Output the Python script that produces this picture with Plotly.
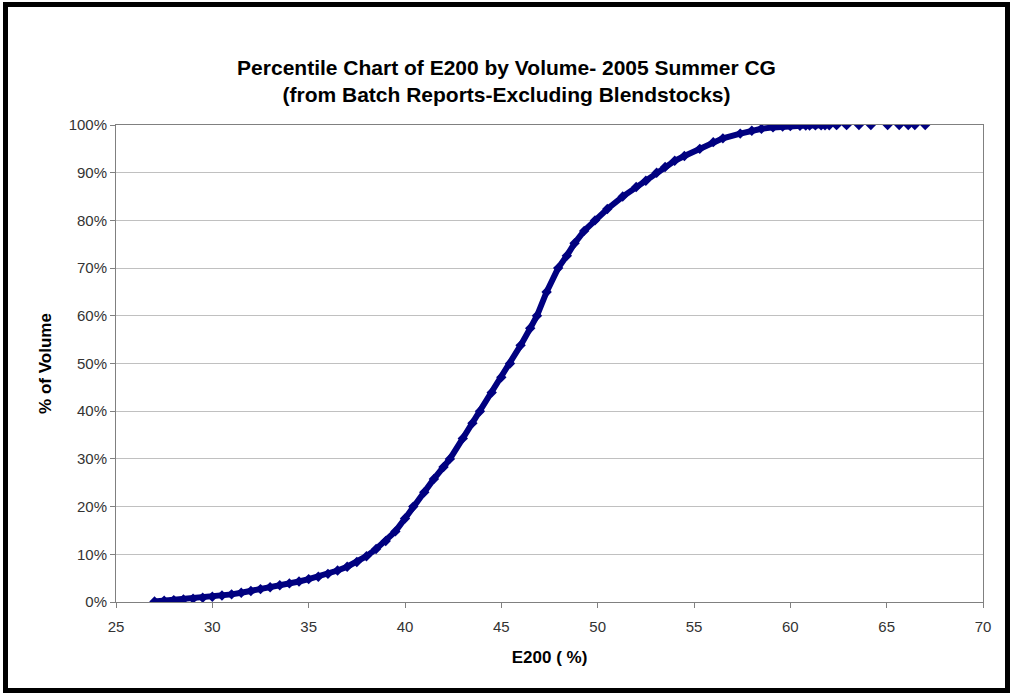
import plotly.graph_objects as go

# values
e200_curve = [27.0, 27.5, 28.0, 28.5, 29.0, 29.5, 30.0, 30.5, 31.0, 31.5, 32.0, 32.5,
              33.0, 33.5, 34.0, 34.5, 35.0, 35.5, 36.0, 36.5, 37.0, 37.5, 38.0, 38.5,
              39.0, 39.5, 40.0, 40.43, 41.0, 41.5, 42.0, 42.33, 43.0, 43.5, 43.89, 44.5,
              45.0, 45.45, 46.0, 46.5, 46.85, 47.35, 47.95, 48.4, 48.8, 49.3, 49.86, 50.5,
              51.3, 52.0, 52.5, 53.06, 53.5, 54.0, 54.5, 55.3, 56.0, 56.5, 57.4, 58.0,
              58.5, 59.1, 59.6, 60.0, 60.5, 60.8, 61.0, 61.3, 61.6, 61.8]
pct_curve = [0.1, 0.25, 0.4, 0.55, 0.7, 0.9, 1.1, 1.35, 1.6, 1.95, 2.3, 2.7,
             3.1, 3.5, 3.9, 4.3, 4.8, 5.3, 5.9, 6.6, 7.4, 8.4, 9.6, 11.1,
             12.8, 14.8, 17.5, 20.0, 23.0, 25.8, 28.3, 30.0, 34.3, 37.5, 40.0, 43.9,
             47.1, 50.0, 53.8, 57.4, 60.0, 65.0, 70.0, 72.6, 75.2, 77.8, 80.0, 82.4,
             85.0, 87.0, 88.3, 90.0, 91.2, 92.5, 93.5, 95.0, 96.4, 97.2, 98.2, 98.8,
             99.2, 99.5, 99.7, 99.8, 99.85, 99.87, 99.9, 99.92, 99.94, 99.95]

e200_tail = [62.02, 62.40, 62.92, 63.56, 64.18, 65.05, 65.65, 66.12, 66.46, 67.0]
pct_tail = [99.96, 99.97, 99.97, 99.98, 99.98, 99.99, 99.99, 100.0, 100.0, 100.0]

x_ticks = [25, 30, 35, 40, 45, 50, 55, 60, 65, 70]
y_ticks = [0, 10, 20, 30, 40, 50, 60, 70, 80, 90, 100]
y_labels = ["0%", "10%", "20%", "30%", "40%", "50%", "60%", "70%", "80%", "90%", "100%"]

navy = "#000080"

fig = go.Figure()
fig.add_trace(go.Scatter(x=e200_curve, y=pct_curve, mode="lines+markers",
                         line=dict(color=navy, width=6),
                         marker=dict(symbol="diamond", size=8, color=navy)))
fig.add_trace(go.Scatter(x=e200_tail, y=pct_tail, mode="markers",
                         marker=dict(symbol="diamond", size=8, color=navy)))

fig.update_layout(
    width=1013, height=696,
    margin=dict(l=116, r=30, t=125, b=94),
    paper_bgcolor="white", plot_bgcolor="white",
    showlegend=False,
    font=dict(family="Liberation Sans, Arial, sans-serif", size=15, color="#333333"),
    title=dict(text="<b>Percentile Chart of E200 by Volume- 2005 Summer CG<br>(from Batch Reports-Excluding Blendstocks)</b>",
               x=0.5, xref="container", xanchor="center", y=0.892, yanchor="bottom",
               font=dict(size=21, color="black")),
)
fig.update_xaxes(range=[25, 70], tickvals=x_ticks, showgrid=False, zeroline=False,
                 showline=True, linecolor="#808080", linewidth=1, mirror=True,
                 ticks="outside", ticklen=5, tickcolor="#808080", ticklabelstandoff=6,
                 title=dict(text="<b>E200 ( %)</b>", font=dict(size=17, color="black"), standoff=17))
fig.update_yaxes(range=[0, 100], tickvals=y_ticks, ticktext=y_labels,
                 showgrid=True, gridcolor="#c0c0c0", gridwidth=1, zeroline=False,
                 showline=True, linecolor="#808080", linewidth=1, mirror=True,
                 ticks="outside", ticklen=5, tickcolor="#808080",
                 title=dict(text="<b>% of Volume</b>", font=dict(size=17, color="black"), standoff=12))

# black frame around the chart
fig.add_shape(type="rect", xref="paper", yref="paper",
              x0=(5.5 - 116) / 867, x1=(1007.5 - 116) / 867,
              y0=(602 - 690.5) / 477, y1=(602 - 4.5) / 477,
              line=dict(color="black", width=5))

# page body has a default margin; drop it so the figure sits at the window corner
fig.write_html("out.html", config={"displayModeBar": False},
               post_script="document.body.style.margin='0';")
